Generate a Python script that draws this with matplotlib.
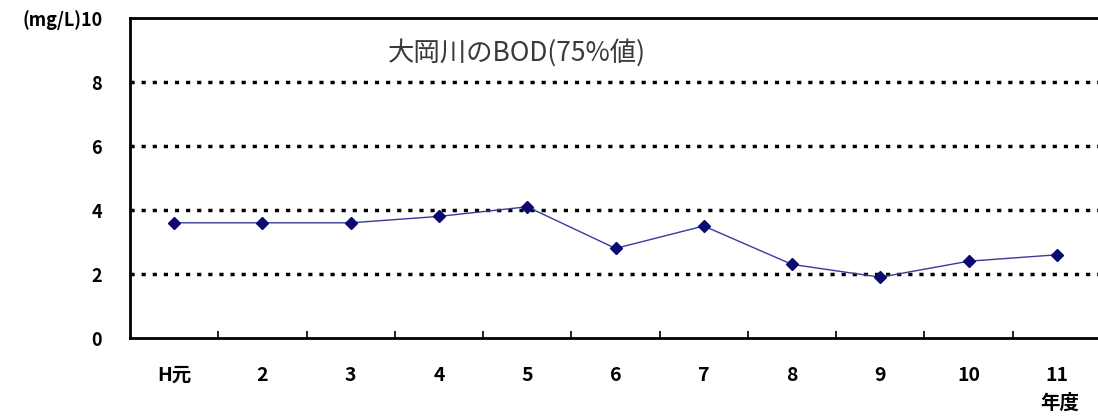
import matplotlib
matplotlib.use('Agg')
import matplotlib.pyplot as plt
import numpy as np

plt.rcParams['font.family'] = ['Noto Sans CJK JP', 'DejaVu Sans']

years = ['H元', '2', '3', '4', '5', '6', '7', '8', '9', '10', '11']
bod = [3.6, 3.6, 3.6, 3.8, 4.1, 2.8, 3.5, 2.3, 1.9, 2.4, 2.6]
yticks = [0, 2, 4, 6, 8, 10]
ytick_labels = ['0', '2', '4', '6', '8', '(mg/L)10']

W, H = 1098, 418
fig = plt.figure(figsize=(W / 100, H / 100), dpi=100)
ax = fig.add_axes([130 / W, (H - 338) / H, 971 / W, 320 / H])

x = np.arange(len(years))
ax.plot(x, bod, color='#3a3a9a', linewidth=1.0, marker='D', markersize=6,
        markerfacecolor='#0a0a70', markeredgecolor='#0a0a70', zorder=3)

ax.set_xlim(-0.5, len(years) - 0.5)
ax.set_ylim(0, 10)

for v in yticks[1:-1]:
    ax.axhline(v, color='black', linestyle=(0, (1.2, 2.0)), linewidth=2.5, zorder=1)

ax.set_yticks(yticks)
ax.set_yticklabels(ytick_labels, fontsize=13, fontweight='bold')
ax.tick_params(axis='y', length=0, pad=20)

ax.set_xticks(x)
ax.set_xticklabels(years, fontsize=14, fontweight='bold')
ax.tick_params(axis='x', length=0, pad=20)
ax.set_xticks(np.arange(0.5, len(years) - 1, 1.0), minor=True)
ax.tick_params(axis='x', which='minor', direction='in', length=5, width=1.2, color='black')

for side in ['left', 'top', 'bottom']:
    ax.spines[side].set_linewidth(2.0)
    ax.spines[side].set_color('black')
ax.spines['right'].set_visible(False)

fig.text(388 / W, 1 - 53 / H, '大岡川のBOD(75%値)', fontsize=19, color='#3a3a3a',
         ha='left', va='center')
fig.text(1060 / W, 1 - 403 / H, '年度', fontsize=14, fontweight='bold',
         ha='center', va='center')

fig.savefig('out.png', dpi=100)
